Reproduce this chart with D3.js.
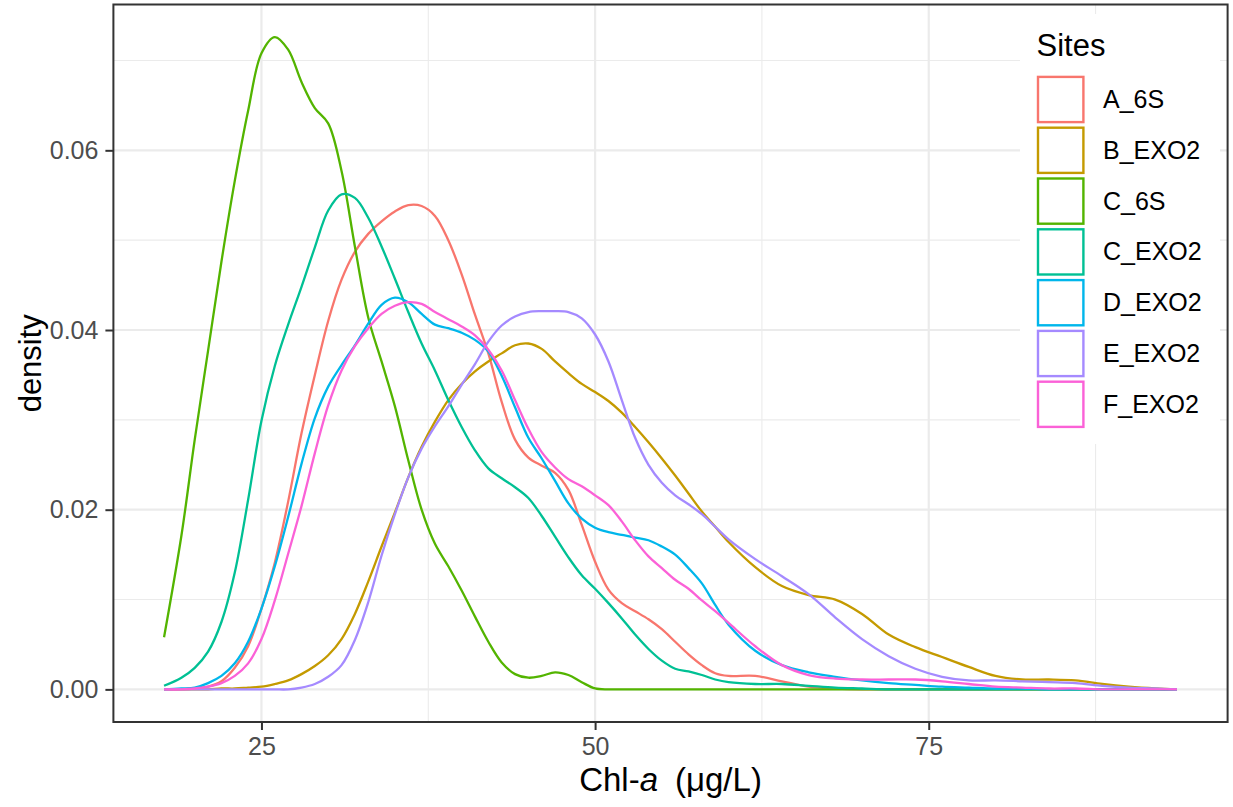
<!DOCTYPE html>
<html>
<head>
<meta charset="utf-8">
<script src="https://cdn.jsdelivr.net/npm/d3@7"></script>
<style>
  body { margin: 0; background: #fff; }
  svg { display: block; }
</style>
</head>
<body>
<div id="chart"></div>
<script>
// density values, on a shared Chl-a grid (ug/L)
var chlGrid = [17.7, 19, 20, 21, 22, 23, 24, 25, 26, 27, 28, 29, 30, 31, 32, 33, 34, 35, 36, 37,
    38, 39, 40, 41, 42, 43, 44, 45, 46, 47, 48, 49, 50, 51, 52, 53, 54, 55, 56, 57, 58, 59, 60,
    62, 64, 66, 68, 70, 72, 74, 76, 78, 80, 82, 84, 86, 88, 90, 92, 93.6];

var siteNames = ["A_6S", "B_EXO2", "C_6S", "C_EXO2", "D_EXO2", "E_EXO2", "F_EXO2"];
var siteColors = ["#F8766D", "#C49A00", "#53B400", "#00C094", "#00B6EB", "#A58AFF", "#FB61D7"];

var a6s = [0, 0, 0.0001, 0.0003, 0.0009, 0.0024, 0.0048, 0.0090, 0.0141, 0.0209, 0.0285, 0.0350,
    0.0410, 0.0456, 0.0487, 0.0507, 0.0521, 0.0532, 0.0539, 0.0538, 0.0527, 0.0500, 0.0462, 0.0417,
    0.0374, 0.0320, 0.0278, 0.0258, 0.0249, 0.0241, 0.0222, 0.0183, 0.0142, 0.0111, 0.0096, 0.0087,
    0.0078, 0.0067, 0.0053, 0.0039, 0.0027, 0.0018, 0.0015,
    0.0015, 0.0009, 0.0003, 0.0001, 0, 0, 0, 0, 0, 0, 0, 0, 0, 0, 0, 0, 0];
var bExo2 = [0, 0, 0, 0, 0.0001, 0.0001, 0.0002, 0.0003, 0.0006, 0.0010, 0.0017, 0.0026, 0.0038,
    0.0056, 0.0084, 0.0120, 0.0159, 0.0197, 0.0236, 0.0270, 0.0298, 0.0322, 0.0340, 0.0354, 0.0365,
    0.0374, 0.0383, 0.0385, 0.0379, 0.0365, 0.0352, 0.0340, 0.0331, 0.0321, 0.0308, 0.0292, 0.0275,
    0.0257, 0.0238, 0.0218, 0.0198, 0.0181, 0.0164,
    0.0136, 0.0115, 0.0105, 0.0100, 0.0084, 0.0061, 0.0047, 0.0036, 0.0025, 0.0015, 0.0011, 0.0011,
    0.0010, 0.0006, 0.0003, 0.0001, 0];
var c6s = [0.0058, 0.0171, 0.0278, 0.0377, 0.0476, 0.0566, 0.0644, 0.0708, 0.0726, 0.0712, 0.0676,
    0.0647, 0.0630, 0.0577, 0.0493, 0.0414, 0.0365, 0.0315, 0.0255, 0.0200, 0.0162, 0.0137, 0.0110,
    0.0081, 0.0053, 0.0030, 0.0017, 0.0013, 0.0015, 0.0019, 0.0016, 0.0008, 0.0001, 0, 0, 0, 0, 0,
    0, 0, 0, 0, 0,
    0, 0, 0, 0, 0, 0, 0, 0, 0, 0, 0, 0, 0, 0, 0, 0, 0];
var cExo2 = [0.0004, 0.0013, 0.0024, 0.0042, 0.0075, 0.0130, 0.0211, 0.0299, 0.0360, 0.0406, 0.0448,
    0.0492, 0.0533, 0.0551, 0.0547, 0.0525, 0.0493, 0.0457, 0.0420, 0.0385, 0.0355, 0.0322, 0.0292,
    0.0266, 0.0246, 0.0235, 0.0225, 0.0213, 0.0193, 0.0170, 0.0147, 0.0127, 0.0112, 0.0096, 0.0079,
    0.0061, 0.0045, 0.0032, 0.0023, 0.0020, 0.0016, 0.0011, 0.0008,
    0.0006, 0.0006, 0.0004, 0.0002, 0.0001, 0, 0, 0, 0, 0, 0, 0, 0, 0, 0, 0, 0];
var dExo2 = [0, 0.0001, 0.0002, 0.0007, 0.0015, 0.0029, 0.0053, 0.0090, 0.0137, 0.0192, 0.0251,
    0.0302, 0.0337, 0.0361, 0.0383, 0.0407, 0.0428, 0.0436, 0.0431, 0.0418, 0.0406, 0.0402, 0.0397,
    0.0389, 0.0376, 0.0349, 0.0314, 0.0280, 0.0257, 0.0232, 0.0207, 0.0190, 0.0180, 0.0175, 0.0172,
    0.0169, 0.0166, 0.0159, 0.0150, 0.0135, 0.0118, 0.0094, 0.0072,
    0.0043, 0.0027, 0.0019, 0.0014, 0.0010, 0.0007, 0.0005, 0.0003, 0.0002, 0.0001, 0.0001, 0, 0, 0,
    0, 0, 0];
var eExo2 = [0, 0, 0, 0, 0, 0, 0, 0, 0, 0, 0.0002, 0.0006, 0.0014, 0.0027, 0.0055, 0.0097, 0.0149,
    0.0195, 0.0236, 0.0268, 0.0293, 0.0315, 0.0339, 0.0362, 0.0387, 0.0405, 0.0415, 0.0420, 0.0421,
    0.0421, 0.0420, 0.0413, 0.0395, 0.0365, 0.0322, 0.0280, 0.0250, 0.0230, 0.0216, 0.0206, 0.0195,
    0.0181, 0.0167,
    0.0145, 0.0126, 0.0106, 0.0080, 0.0056, 0.0037, 0.0023, 0.0014, 0.0010, 0.0010, 0.0009, 0.0008,
    0.0007, 0.0004, 0.0002, 0.0001, 0];
var fExo2 = [0, 0, 0.0001, 0.0003, 0.0007, 0.0015, 0.0029, 0.0056, 0.0099, 0.0151, 0.0204, 0.0263,
    0.0316, 0.0355, 0.0382, 0.0402, 0.0418, 0.0427, 0.0431, 0.0429, 0.0420, 0.0412, 0.0404, 0.0394,
    0.0378, 0.0355, 0.0322, 0.0290, 0.0264, 0.0247, 0.0234, 0.0226, 0.0216, 0.0205, 0.0187, 0.0166,
    0.0148, 0.0135, 0.0122, 0.0112, 0.0099, 0.0087, 0.0074,
    0.0048, 0.0027, 0.0016, 0.0012, 0.0011, 0.0011, 0.0011, 0.0009, 0.0006, 0.0003, 0.0002, 0.0001,
    0.0001, 0, 0, 0, 0];

var xTicks = [25, 50, 75];
var yTicks = [0, 0.02, 0.04, 0.06];

var seriesValues = [a6s, bExo2, c6s, cExo2, dExo2, eExo2, fExo2];

//layout
var width = 1233;
var height = 807;
var margin = { left: 113.4, top: 4.5, right: 5.4, bottom: 85 };
var font = "'Liberation Sans', Arial, Helvetica, sans-serif";

var svg = d3.select("#chart").append("svg")
    .attr("width", width)
    .attr("height", height);

svg.append("rect")
    .attr("width", width)
    .attr("height", height)
    .attr("fill", "#fff");

// ggplot style 5% expansion on both axes
var xExt = d3.extent(chlGrid);
var xPad = (xExt[1] - xExt[0]) * 0.05;
var yMax = d3.max(seriesValues, function (s) { return d3.max(s); });
var yPad = yMax * 0.05;

var x = d3.scaleLinear()
    .domain([xExt[0] - xPad, xExt[1] + xPad])
    .range([margin.left, width - margin.right]);

var y = d3.scaleLinear()
    .domain([-yPad, yMax + yPad])
    .range([height - margin.bottom, margin.top]);

var panel = svg.append("g");

// minor grid
var xMinor = [37.5, 62.5, 87.5];
var yMinor = [0.01, 0.03, 0.05, 0.07];

panel.selectAll(".xminor").data(xMinor).enter().append("line")
    .attr("x1", x).attr("x2", x)
    .attr("y1", y.range()[0]).attr("y2", y.range()[1])
    .attr("stroke", "#ebebeb").attr("stroke-width", 1.1);
panel.selectAll(".yminor").data(yMinor).enter().append("line")
    .attr("x1", x.range()[0]).attr("x2", x.range()[1])
    .attr("y1", y).attr("y2", y)
    .attr("stroke", "#ebebeb").attr("stroke-width", 1.1);

// major grid
panel.selectAll(".xmajor").data(xTicks).enter().append("line")
    .attr("x1", x).attr("x2", x)
    .attr("y1", y.range()[0]).attr("y2", y.range()[1])
    .attr("stroke", "#ebebeb").attr("stroke-width", 2.2);
panel.selectAll(".ymajor").data(yTicks).enter().append("line")
    .attr("x1", x.range()[0]).attr("x2", x.range()[1])
    .attr("y1", y).attr("y2", y)
    .attr("stroke", "#ebebeb").attr("stroke-width", 2.2);

// density lines
var line = d3.line()
    .x(function (d, i) { return x(chlGrid[i]); })
    .y(function (d) { return y(d); })
    .curve(d3.curveCatmullRom.alpha(0.5));

panel.selectAll(".density").data(seriesValues).enter().append("path")
    .attr("d", line)
    .attr("fill", "none")
    .attr("stroke", function (d, i) { return siteColors[i]; })
    .attr("stroke-width", 2.3);

// legend (inside the panel)
var legend = svg.append("g");
legend.append("rect")
    .attr("x", 1020).attr("y", 14)
    .attr("width", 200).attr("height", 430)
    .attr("fill", "#fff");

legend.append("text")
    .attr("x", 1036.5).attr("y", 56)
    .attr("font-family", font)
    .attr("font-size", "31px")
    .attr("fill", "#000")
    .text("Sites");

var keys = legend.selectAll(".key").data(siteNames).enter().append("g")
    .attr("transform", function (d, i) { return "translate(0," + (99.5 + i * 50.8) + ")"; });

keys.append("rect")
    .attr("x", 1038).attr("y", -22.6)
    .attr("width", 45.4).attr("height", 45.2)
    .attr("fill", "#fff")
    .attr("stroke", function (d, i) { return siteColors[i]; })
    .attr("stroke-width", 2.4);

keys.append("text")
    .attr("x", 1103).attr("y", 8.5)
    .attr("font-family", font)
    .attr("font-size", "25px")
    .attr("fill", "#000")
    .text(function (d) { return d; });

// panel border
svg.append("rect")
    .attr("x", x.range()[0]).attr("y", y.range()[1])
    .attr("width", x.range()[1] - x.range()[0])
    .attr("height", y.range()[0] - y.range()[1])
    .attr("fill", "none")
    .attr("stroke", "#333")
    .attr("stroke-width", 2);

// axes
var xAxis = svg.append("g")
    .attr("transform", "translate(0," + y.range()[0] + ")")
    .call(d3.axisBottom(x).tickValues(xTicks).tickSize(8).tickPadding(7).tickFormat(d3.format("d")));
var yAxis = svg.append("g")
    .attr("transform", "translate(" + x.range()[0] + ",0)")
    .call(d3.axisLeft(y).tickValues(yTicks).tickSize(8).tickPadding(7).tickFormat(d3.format(".2f")));

[xAxis, yAxis].forEach(function (ax) {
    ax.select(".domain").remove();
    ax.selectAll(".tick line").attr("stroke", "#333").attr("stroke-width", 2);
    ax.selectAll(".tick text")
        .attr("font-family", font)
        .attr("font-size", "25px")
        .attr("fill", "#4d4d4d");
});

// axis titles
var xTitle = svg.append("text")
    .attr("x", (x.range()[0] + x.range()[1]) / 2)
    .attr("y", 791)
    .attr("text-anchor", "middle")
    .attr("font-family", font)
    .attr("font-size", "33px")
    .attr("fill", "#000");
xTitle.append("tspan").text("Chl-");
xTitle.append("tspan").attr("font-style", "italic").text("a");
xTitle.append("tspan").attr("dx", 17).text("(\u03bcg/L)");

svg.append("text")
    .attr("transform", "translate(41," + ((y.range()[0] + y.range()[1]) / 2) + ") rotate(-90)")
    .attr("text-anchor", "middle")
    .attr("font-family", font)
    .attr("font-size", "31px")
    .attr("fill", "#000")
    .text("density");
</script>
</body>
</html>
